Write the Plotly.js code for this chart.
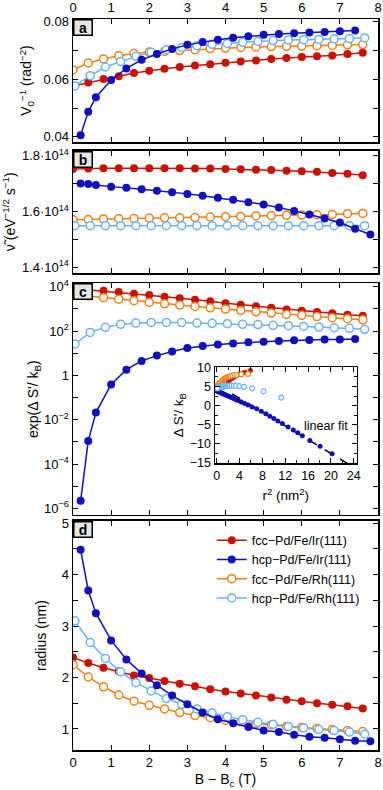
<!DOCTYPE html>
<html>
<head>
<meta charset="utf-8">
<script src="https://cdn.plot.ly/plotly-3.0.1.min.js"></script>
<style>
  html, body { margin: 0; padding: 0; background: #fff; }
  #chart { width: 383px; height: 790px; }
</style>
</head>
<body>
<div id="chart"></div>
<script>
// field above critical value, one array per system
const bFccIr = [0, 0.4, 0.8, 1.2, 1.6, 2.0, 2.4, 2.8, 3.2, 3.6, 4.0, 4.4, 4.8, 5.2, 5.6, 6.0, 6.4, 6.8, 7.2, 7.6];
const bHcpIr = [0.2, 0.4, 0.6, 1.0, 1.4, 1.8, 2.2, 2.6, 3.0, 3.4, 3.8, 4.2, 4.6, 5.0, 5.4, 5.8, 6.2, 6.6, 7.0, 7.4, 7.8];
const bFccRh = [0, 0.4, 0.8, 1.2, 1.6, 2.0, 2.4, 2.8, 3.2, 3.6, 4.0, 4.4, 4.8, 5.2, 5.6, 6.0, 6.4, 6.8, 7.2, 7.6];
const bHcpRh = [0.05, 0.45, 0.85, 1.25, 1.65, 2.05, 2.45, 2.85, 3.25, 3.65, 4.05, 4.45, 4.85, 5.25, 5.65, 6.05, 6.45, 6.85, 7.25, 7.65];

// panel a: V0^-1
const invV0FccIr = [0.0577, 0.0589, 0.0601, 0.0611, 0.0622, 0.0630, 0.0637, 0.0643, 0.0648, 0.0653, 0.0658, 0.0662, 0.0666, 0.0671, 0.0674, 0.0678, 0.0680, 0.0683, 0.0688, 0.0693];
const invV0HcpIr = [0.0406, 0.0487, 0.0538, 0.0598, 0.0638, 0.0668, 0.0688, 0.0706, 0.0720, 0.0730, 0.0738, 0.0745, 0.0750, 0.0755, 0.0758, 0.0760, 0.0763, 0.0765, 0.0767, 0.0770];
const invV0FccRh = [0.0633, 0.0657, 0.0671, 0.0682, 0.0690, 0.0695, 0.0697, 0.0700, 0.0703, 0.0707, 0.0709, 0.0711, 0.0713, 0.0714, 0.0715, 0.0716, 0.0717, 0.0718, 0.0720, 0.0721];
const invV0HcpRh = [0.0577, 0.0613, 0.0643, 0.0662, 0.0680, 0.0694, 0.0703, 0.0711, 0.0717, 0.0722, 0.0725, 0.0729, 0.0732, 0.0735, 0.0737, 0.0738, 0.0739, 0.0741, 0.0742, 0.0744];

// panel b: attempt frequency
const nuFccIr = [1.752e14, 1.754e14, 1.755e14, 1.755e14, 1.755e14, 1.755e14, 1.755e14, 1.755e14, 1.754e14, 1.754e14, 1.752e14, 1.751e14, 1.750e14, 1.749e14, 1.746e14, 1.744e14, 1.742e14, 1.738e14, 1.735e14, 1.730e14];
const nuHcpIr = [1.700e14, 1.698e14, 1.695e14, 1.689e14, 1.685e14, 1.680e14, 1.674e14, 1.669e14, 1.663e14, 1.656e14, 1.649e14, 1.642e14, 1.633e14, 1.625e14, 1.614e14, 1.602e14, 1.589e14, 1.575e14, 1.560e14, 1.538e14, 1.517e14];
const nuFccRh = [1.570e14, 1.571e14, 1.573e14, 1.574e14, 1.575e14, 1.576e14, 1.577e14, 1.577e14, 1.578e14, 1.580e14, 1.581e14, 1.582e14, 1.584e14, 1.585e14, 1.586e14, 1.587e14, 1.588e14, 1.589e14, 1.592e14, 1.593e14];
const nuHcpRh = [1.549e14, 1.549e14, 1.549e14, 1.549e14, 1.549e14, 1.549e14, 1.549e14, 1.549e14, 1.549e14, 1.549e14, 1.549e14, 1.549e14, 1.549e14, 1.549e14, 1.549e14, 1.549e14, 1.549e14, 1.549e14, 1.549e14, 1.549e14];

// panel c: exp(dS'/kB)
const expSFccIr = [8300, 7200, 6600, 5800, 4800, 4200, 3500, 3000, 2600, 2200, 1800, 1550, 1300, 1120, 950, 830, 720, 630, 550, 490];
const expSHcpIr = [2.2e-6, 1.1e-3, 2.1e-2, 0.39, 1.8, 4.5, 7.8, 12, 17, 21, 25, 27.5, 31, 33, 35.5, 38, 39, 41, 42, 44];
const expSFccRh = [4500, 3800, 3200, 2750, 2350, 1950, 1700, 1480, 1290, 1120, 980, 850, 740, 650, 560, 510, 450, 400, 360, 320];
const expSHcpRh = [26, 87, 148, 200, 230, 245, 245, 240, 230, 224, 214, 200, 195, 182, 174, 162, 151, 141, 132, 120];

// panel d: skyrmion radius (nm)
const radFccIr = [2.39, 2.28, 2.19, 2.12, 2.04, 1.99, 1.93, 1.88, 1.83, 1.77, 1.73, 1.69, 1.65, 1.61, 1.57, 1.54, 1.50, 1.47, 1.44, 1.40];
const radHcpIr = [4.48, 3.69, 3.25, 2.72, 2.35, 2.08, 1.85, 1.65, 1.48, 1.32, 1.19, 1.11, 1.04, 0.97, 0.94, 0.89, 0.85, 0.83, 0.80, 0.77, 0.76];
const radFccRh = [2.25, 2.01, 1.82, 1.66, 1.54, 1.46, 1.39, 1.32, 1.26, 1.22, 1.17, 1.14, 1.10, 1.08, 1.05, 1.03, 1.01, 0.99, 0.97, 0.95];
const radHcpRh = [3.10, 2.68, 2.37, 2.11, 1.90, 1.74, 1.59, 1.48, 1.39, 1.31, 1.24, 1.18, 1.13, 1.09, 1.05, 1.02, 0.99, 0.97, 0.94, 0.90];

// inset: dS'/kB vs r^2
const insR2FccIr = [5.9, 5.0, 4.6, 4.2, 3.9, 3.6, 3.3, 3.0, 2.8, 2.6, 2.4, 2.2, 2.0];
const insSFccIr = [9.2, 8.7, 8.5, 8.3, 8.1, 7.9, 7.7, 7.5, 7.3, 7.1, 6.9, 6.6, 6.3];
const insR2HcpIr = [0.05, 0.15, 0.3, 0.45, 0.6, 0.8, 1.0, 1.2, 1.4, 1.6, 1.85, 2.1, 2.4, 2.7, 3.0, 3.4, 3.8, 4.3, 4.9, 5.5, 6.2, 7.0, 7.8, 8.6, 9.3, 10.0, 10.7, 11.5, 12.5, 13.4, 14.2, 15.0, 16.3, 18.1, 20.2];
const insSHcpIr = [3.8, 3.75, 3.65, 3.55, 3.45, 3.3, 3.2, 3.05, 2.9, 2.8, 2.6, 2.45, 2.25, 2.05, 1.85, 1.55, 1.3, 0.95, 0.55, 0.15, -0.35, -0.85, -1.45, -2.15, -2.8, -3.4, -4.0, -4.7, -5.6, -6.4, -7.1, -7.9, -9.1, -10.6, -12.6];
const insR2FccRh = [5.5, 4.3, 3.4, 2.8, 2.4, 2.0, 1.7, 1.5, 1.3, 1.1, 0.95, 0.8, 0.65, 0.5, 0.35, 0.2, 0.1, 0.05];
const insSFccRh = [8.3, 8.2, 8.0, 7.9, 7.7, 7.5, 7.3, 7.1, 6.9, 6.7, 6.5, 6.3, 6.1, 5.9, 5.6, 5.3, 5.0, 4.8];
const insR2HcpRh = [11.3, 8.2, 6.2, 4.8, 3.9, 3.2, 2.6, 2.2, 1.8, 1.5, 1.3, 1.1, 0.9, 0.75, 0.6, 0.5, 0.4, 0.3, 0.2, 0.1];
const insSHcpRh = [2.1, 3.7, 4.5, 4.9, 5.1, 5.2, 5.2, 5.2, 5.2, 5.15, 5.1, 5.05, 5.0, 4.95, 4.9, 4.85, 4.75, 4.7, 4.6, 4.5];
const fitR2 = [0, 23.0];
const fitS = [5.5, -15.2];

const names = ["fcc\u2212Pd/Fe/Ir(111)", "hcp\u2212Pd/Fe/Ir(111)", "fcc\u2212Pd/Fe/Rh(111)", "hcp\u2212Pd/Fe/Rh(111)"];
const colors = ["#cc1100", "#1010c0", "#f08010", "#66b2ff"];
const filled = [true, true, false, false];
const xs = [bFccIr, bHcpIr, bFccRh, bHcpRh];

function series(i, x, y, xa, ya, legend, msize) {
  return {
    x: x, y: y, xaxis: xa, yaxis: ya,
    type: "scatter", mode: "lines+markers",
    name: names[i], legendgroup: names[i], legendrank: i + 1, showlegend: legend,
    line: { color: colors[i], width: 1.5 },
    marker: {
      symbol: "circle", size: msize,
      color: filled[i] ? colors[i] : "#ffffff",
      line: { color: colors[i], width: filled[i] ? 0 : 1.5 }
    },
    cliponaxis: true
  };
}

const traces = [];
const panels = [
  [invV0FccIr, invV0HcpIr, invV0FccRh, invV0HcpRh],
  [nuFccIr, nuHcpIr, nuFccRh, nuHcpRh],
  [expSFccIr, expSHcpIr, expSFccRh, expSHcpRh],
  [radFccIr, radHcpIr, radFccRh, radHcpRh]
];
panels.forEach(function (p, k) {
  const xa = k === 0 ? "x" : "x" + (k + 1);
  const ya = k === 0 ? "y" : "y" + (k + 1);
  [0, 2, 3, 1].forEach(function (i) {
    traces.push(series(i, xs[i], p[i], xa, ya, k === 3, 8));
  });
});

// inset
traces.push({
  x: fitR2, y: fitS, xaxis: "x5", yaxis: "y5", type: "scatter", mode: "lines",
  showlegend: false, line: { color: "black", width: 1.5, dash: "dash" }
});
const insX = [insR2FccIr, insR2HcpIr, insR2FccRh, insR2HcpRh];
const insY = [insSFccIr, insSHcpIr, insSFccRh, insSHcpRh];
[1, 0, 2, 3].forEach(function (i) {
  const t = series(i, insX[i], insY[i], "x5", "y5", false, 5);
  t.mode = "markers";
  t.marker.line.width = filled[i] ? 0 : 1.2;
  traces.push(t);
});

const font = { family: "Liberation Sans, Arial, sans-serif", size: 13, color: "black" };
const axisBase = {
  showline: true, linecolor: "black", linewidth: 1.5, mirror: "ticks",
  ticks: "inside", ticklen: 5, tickwidth: 1, tickcolor: "black",
  showgrid: false, zeroline: false, tickfont: { size: 13 }
};
function ax(extra) { return Object.assign({}, axisBase, extra); }

const xTicks = [0, 1, 2, 3, 4, 5, 6, 7, 8];
const domA = [0.8317, 1.0], domB = [0.6525, 0.8201], domC = [0.3215, 0.6384], domD = [0, 0.3133];

const layout = {
  width: 383, height: 790,
  margin: { l: 73, r: 5, t: 19, b: 40 },
  paper_bgcolor: "white", plot_bgcolor: "white",
  font: font,
  showlegend: true,
  legend: {
    x: 0.455, y: 0.307, xanchor: "left", yanchor: "top",
    bgcolor: "rgba(0,0,0,0)", font: { size: 12.5 },
    itemwidth: 30, tracegroupgap: 0, traceorder: "normal"
  },
  xaxis: ax({ domain: [0, 1], anchor: "y", range: [0, 8], side: "top", tickvals: xTicks }),
  yaxis: ax({
    domain: domA, anchor: "x", range: [0.0382, 0.081],
    tickvals: [0.04, 0.06, 0.08], ticktext: ["0.04", "0.06", "0.08"],
    minor: { tickvals: [0.05, 0.07], ticks: "inside", ticklen: 5, tickcolor: "black" },
    title: { text: "V<sub>0</sub><sup>\u22121</sup> (rad<sup>\u22122</sup>)", font: { size: 14 }, standoff: 8 }
  }),
  xaxis2: ax({ domain: [0, 1], anchor: "y2", range: [0, 8], tickvals: xTicks, showticklabels: false }),
  yaxis2: ax({
    domain: domB, anchor: "x2", range: [1.379e14, 1.8186e14],
    tickvals: [1.4e14, 1.6e14, 1.8e14],
    ticktext: ["1.4\u00b710<sup>14</sup>", "1.6\u00b710<sup>14</sup>", "1.8\u00b710<sup>14</sup>"],
    minor: { tickvals: [1.5e14, 1.7e14], ticks: "inside", ticklen: 5, tickcolor: "black" },
    title: { text: "\u03bd\u0303 (eV<sup>\u22121/2</sup> s<sup>\u22121</sup>)", font: { size: 14 }, standoff: 4 }
  }),
  xaxis3: ax({ domain: [0, 1], anchor: "y3", range: [0, 8], tickvals: xTicks, showticklabels: false }),
  yaxis3: ax({
    domain: domC, anchor: "x3", type: "log", range: [-6.3, 4.153],
    tickvals: [1e-6, 1e-4, 1e-2, 1, 1e2, 1e4],
    ticktext: ["10<sup>\u22126</sup>", "10<sup>\u22124</sup>", "10<sup>\u22122</sup>", "1", "10<sup>2</sup>", "10<sup>4</sup>"],
    minor: { tickvals: [1e-5, 1e-3, 1e-1, 1e1, 1e3], ticks: "inside", ticklen: 5, tickcolor: "black" },
    title: { text: "exp(\u0394 S'/ k<sub>B</sub>)", font: { size: 14 }, standoff: 2 }
  }),
  xaxis4: ax({
    domain: [0, 1], anchor: "y4", range: [0, 8], tickvals: xTicks,
    title: { text: "B \u2212 B<sub>c</sub> (T)", font: { size: 14 }, standoff: 5 }
  }),
  yaxis4: ax({
    domain: domD, anchor: "x4", range: [0.592, 5.04],
    tickvals: [1, 2, 3, 4, 5],
    minor: { tickvals: [1.5, 2.5, 3.5, 4.5], ticks: "inside", ticklen: 5, tickcolor: "black" },
    title: { text: "radius (nm)", font: { size: 14 }, standoff: 12 }
  }),
  xaxis5: ax({
    domain: [0.4656, 0.930], anchor: "y5", range: [-0.3, 24.5],
    tickvals: [0, 4, 8, 12, 16, 20, 24], tickfont: { size: 12.5 },
    minor: { tickvals: [2, 6, 10, 14, 18, 22], ticks: "inside", ticklen: 3, tickcolor: "black" },
    title: { text: "r<sup>2</sup> (nm<sup>2</sup>)", font: { size: 13.5 }, standoff: 9 }
  }),
  yaxis5: ax({
    domain: [0.3926, 0.5235], anchor: "x5", range: [-15, 10],
    tickvals: [-15, -10, -5, 0, 5, 10], ticktext: ["\u221215", "\u221210", "\u22125", "0", "5", "10"],
    tickfont: { size: 12.5 },
    minor: { tickvals: [-12.5, -7.5, -2.5, 2.5, 7.5], ticks: "inside", ticklen: 3, tickcolor: "black" },
    title: { text: "\u0394 S'/ k<sub>B</sub>", font: { size: 13.5 }, standoff: 3 }
  }),
  annotations: [
    { text: "linear fit", xref: "x5", yref: "y5", x: 19.2, y: -5.3, showarrow: false, font: { size: 12.5 } }
  ]
};

[["a", domA], ["b", domB], ["c", domC], ["d", domD]].forEach(function (p) {
  layout.annotations.push({
    text: "<b>" + p[0] + "</b>", xref: "paper", yref: "paper",
    x: 0, y: p[1][1], xanchor: "left", yanchor: "top",
    showarrow: false, bgcolor: "#e6e6e6", bordercolor: "black", borderwidth: 1.5,
    borderpad: 1, width: 15, height: 12, font: { size: 14 }
  });
});

Plotly.newPlot("chart", traces, layout, { displayModeBar: false, staticPlot: true });
</script>
</body>
</html>
